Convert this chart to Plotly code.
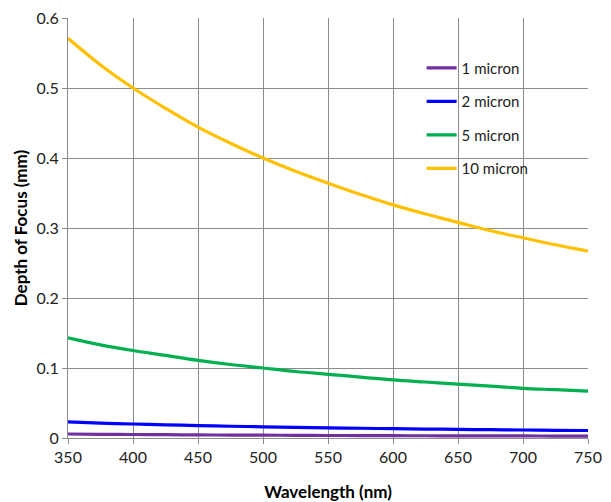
import plotly.graph_objects as go

wavelength = [350, 375, 400, 425, 450, 475, 500, 525, 550, 575, 600, 625, 650, 675, 700, 725, 750]
dof_1um = [0.0057, 0.0053, 0.0050, 0.0047, 0.0044, 0.0042, 0.0040, 0.0038, 0.0036, 0.0035, 0.0033, 0.0032, 0.0031, 0.0030, 0.0029, 0.0028, 0.0027]
dof_2um = [0.0229, 0.0213, 0.0200, 0.0188, 0.0178, 0.0168, 0.0160, 0.0152, 0.0145, 0.0139, 0.0133, 0.0128, 0.0123, 0.0119, 0.0114, 0.0110, 0.0107]
dof_5um = [0.143, 0.133, 0.125, 0.118, 0.111, 0.105, 0.100, 0.095, 0.091, 0.087, 0.083, 0.080, 0.077, 0.074, 0.071, 0.069, 0.067]
dof_10um = [0.571, 0.533, 0.500, 0.471, 0.444, 0.421, 0.400, 0.381, 0.364, 0.348, 0.333, 0.320, 0.308, 0.296, 0.286, 0.276, 0.267]

series_names = ["1 micron", "2 micron", "5 micron", "10 micron"]
series_values = [dof_1um, dof_2um, dof_5um, dof_10um]
series_colors = ["#7030A0", "#0000FF", "#00B050", "#FFC000"]

x_ticks = [350, 400, 450, 500, 550, 600, 650, 700, 750]
y_ticks = [0, 0.1, 0.2, 0.3, 0.4, 0.5, 0.6]
y_tick_labels = ["0", "0.1", "0.2", "0.3", "0.4", "0.5", "0.6"]

FONT = "Lato, Open Sans, sans-serif"

fig = go.Figure()
for name, vals, col in zip(series_names, series_values, series_colors):
    fig.add_trace(go.Scatter(
        x=wavelength, y=vals, name=name, mode="lines",
        line=dict(color=col, width=3.2, shape="spline"),
        legendgroup=name,
    ))

fig.update_layout(
    width=611, height=502,
    margin=dict(l=68, r=23, t=18, b=64),
    paper_bgcolor="white", plot_bgcolor="white",
    font=dict(family=FONT, size=16, color="#222222"),
    showlegend=True,
    legend=dict(
        x=0.68, y=0.92, xanchor="left", yanchor="top",
        bgcolor="rgba(0,0,0,0)", borderwidth=0,
        font=dict(family=FONT, size=15, color="#222222"),
        tracegroupgap=11, itemwidth=30,
    ),
    xaxis=dict(
        range=[350, 750], tickvals=x_ticks,
        tickfont=dict(size=16), automargin=False,
        showgrid=True, gridcolor="#8c8c8c", gridwidth=1,
        showline=True, linecolor="#8c8c8c", linewidth=1,
        ticks="outside", ticklen=5, tickcolor="#8c8c8c",
        zeroline=False,
        title=dict(text="<b>Wavelength (nm)</b>", font=dict(family=FONT, size=17, color="#000000"), standoff=20),
    ),
    yaxis=dict(
        range=[0, 0.6], tickvals=y_ticks, ticktext=y_tick_labels,
        tickfont=dict(size=16), automargin=False,
        showgrid=True, gridcolor="#8c8c8c", gridwidth=1,
        showline=True, linecolor="#8c8c8c", linewidth=1,
        ticks="outside", ticklen=5, tickcolor="#8c8c8c",
        zeroline=False,
        title=dict(text="<b>Depth of Focus (mm)</b>", font=dict(family=FONT, size=17, color="#000000"), standoff=4),
    ),
)

fig.write_html("out.html")
